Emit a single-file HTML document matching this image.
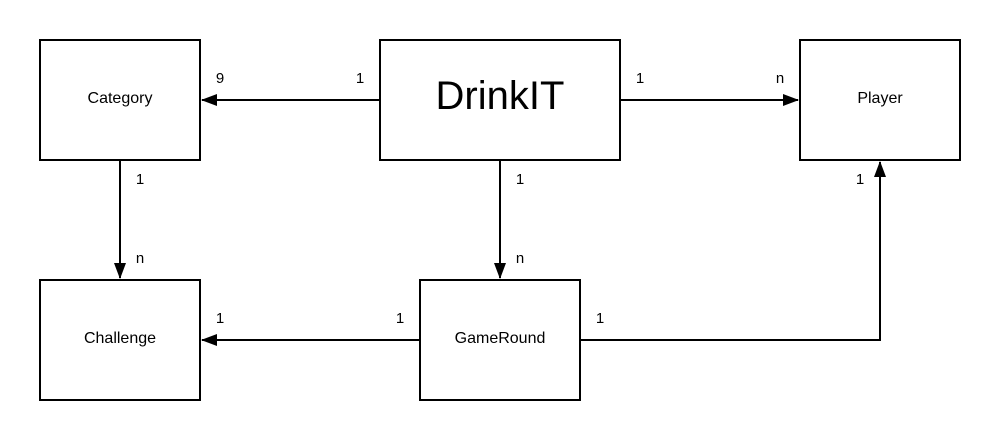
<!DOCTYPE html>
<html><head><meta charset="utf-8"><style>
html,body{margin:0;padding:0;background:#fff;}
svg{display:block;}
text{font-family:"Liberation Sans",sans-serif;fill:#000;}
</style></head><body>
<svg width="1000" height="440" viewBox="0 0 1000 440" xmlns="http://www.w3.org/2000/svg">
<defs>
<marker id="a" markerWidth="16" markerHeight="12" refX="15" refY="6" orient="auto" markerUnits="userSpaceOnUse">
<path d="M0,0 L16,6 L0,12 Z" fill="#000"/>
</marker>
</defs>
<g fill="#fff" stroke="#000" stroke-width="2">
<rect x="40" y="40" width="160" height="120"/>
<rect x="380" y="40" width="240" height="120"/>
<rect x="800" y="40" width="160" height="120"/>
<rect x="40" y="280" width="160" height="120"/>
<rect x="420" y="280" width="160" height="120"/>
</g>
<g stroke="#000" stroke-width="2" fill="none">
<line x1="380" y1="100" x2="202" y2="100" marker-end="url(#a)"/>
<line x1="620" y1="100" x2="798" y2="100" marker-end="url(#a)"/>
<line x1="120" y1="160" x2="120" y2="278" marker-end="url(#a)"/>
<line x1="500" y1="160" x2="500" y2="278" marker-end="url(#a)"/>
<line x1="420" y1="340" x2="202" y2="340" marker-end="url(#a)"/>
<polyline points="580,340 880,340 880,162" marker-end="url(#a)"/>
</g>
<g font-size="16" text-anchor="middle">
<text x="120" y="103">Category</text>
<text x="880" y="103">Player</text>
<text x="120" y="343">Challenge</text>
<text x="500" y="343">GameRound</text>
</g>
<text x="500" y="109" font-size="40" text-anchor="middle">DrinkIT</text>
<g font-size="15" text-anchor="middle">
<text x="220" y="83">9</text>
<text x="360" y="83">1</text>
<text x="640" y="83">1</text>
<text x="780" y="83">n</text>
<text x="140" y="184">1</text>
<text x="140" y="263">n</text>
<text x="520" y="184">1</text>
<text x="520" y="263">n</text>
<text x="860" y="184">1</text>
<text x="220" y="323">1</text>
<text x="400" y="323">1</text>
<text x="600" y="323">1</text>
</g>
</svg>
</body></html>
